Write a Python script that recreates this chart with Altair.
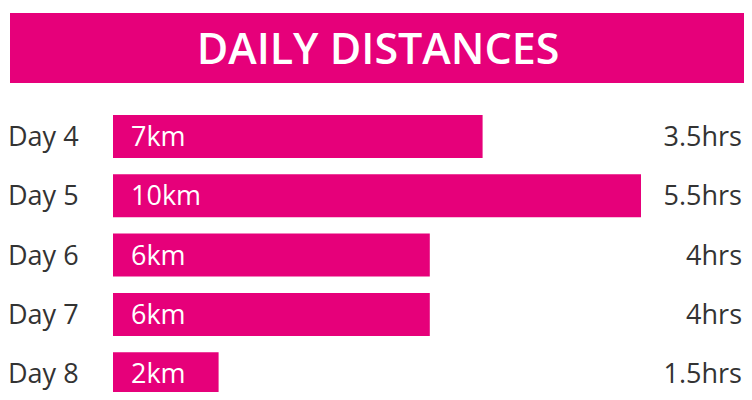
import altair as alt
import pandas as pd

title_text = "DAILY DISTANCES"
days = ["Day 4", "Day 5", "Day 6", "Day 7", "Day 8"]
km = [7, 10, 6, 6, 2]
hours = [3.5, 5.5, 4, 4, 1.5]
km_labels = ["7km", "10km", "6km", "6km", "2km"]
hour_labels = ["3.5hrs", "5.5hrs", "4hrs", "4hrs", "1.5hrs"]

PINK = "#E6007A"
DARK = "#333333"
FONT = "Open Sans"
LABEL_SIZE = 27

df = pd.DataFrame({"day": days, "km": km, "hours": hours,
                   "kmLabel": km_labels, "hrsLabel": hour_labels})

y = alt.Y("day:N", sort=days, axis=None,
          scale=alt.Scale(range=[98.85, 395.35], paddingInner=0.275, paddingOuter=0.1375))
x_scale = alt.Scale(domain=[0, 10], range=[105, 633])

base = alt.Chart(df)

bars = base.mark_bar(color=PINK).encode(
    x=alt.X("km:Q", scale=x_scale, axis=None), y=y)

km_text = base.mark_text(align="left", baseline="alphabetic", dx=18, dy=9.5,
                         color="white", font=FONT, fontSize=LABEL_SIZE).encode(
    x=alt.datum(0), y=y, text="kmLabel:N")

day_text = base.mark_text(align="left", baseline="alphabetic", dy=9.5,
                          color=DARK, font=FONT, fontSize=LABEL_SIZE).encode(
    x=alt.value(0), y=y, text="day:N")

hrs_text = base.mark_text(align="right", baseline="alphabetic", dy=9.5,
                          color=DARK, font=FONT, fontSize=LABEL_SIZE).encode(
    x=alt.value(734), y=y, text="hrsLabel:N")

banner_data = alt.Data(values=[{"t": title_text}])
banner = alt.Chart(banner_data).mark_rect(color=PINK).encode(
    x=alt.value(2), x2=alt.value(736), y=alt.value(5), y2=alt.value(75))
banner_text = alt.Chart(banner_data).mark_text(
    align="center", baseline="alphabetic", color="white", font=FONT,
    fontSize=43, fontWeight=600).encode(
    x=alt.value(370), y=alt.value(55.5), text="t:N")

chart = alt.layer(banner, banner_text, bars, km_text, day_text, hrs_text).properties(
    width=736, height=384, autosize=alt.AutoSizeParams(type="none"), padding=0
).configure_view(stroke=None)

chart.save("out.html", embed_options={"renderer": "svg", "actions": False})
